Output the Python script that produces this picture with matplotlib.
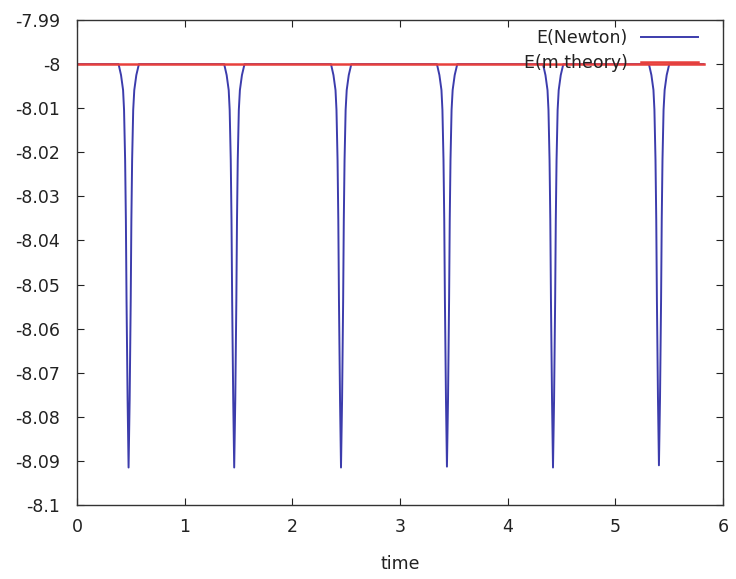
import matplotlib
matplotlib.use("Agg")
import matplotlib.pyplot as plt
from matplotlib.ticker import FixedLocator, FuncFormatter

plt.rcParams['font.family'] = ['DejaVu Sans']

# flat level of both energies
E_LEVEL = -8.0
T_END = 5.82

# times of the six dips and their lowest values
dip_times = [0.479, 1.460, 2.452, 3.436, 4.421, 5.405]
dip_minima = [-8.0915, -8.0915, -8.0915, -8.0913, -8.0915, -8.0910]

# shape of one dip: time offset and drop below -8
dip_offsets = [-0.12, -0.093, -0.070, -0.051, -0.042, -0.032, -0.025, -0.019, -0.009, 0.0,
               0.010, 0.020, 0.026, 0.033, 0.043, 0.053, 0.072, 0.096, 0.12]
dip_drops = [0.0, 0.0, -0.0025, -0.0059, -0.0104, -0.0218, -0.0354, -0.0535, -0.0762, -0.0915,
             -0.0762, -0.0535, -0.0354, -0.0218, -0.0104, -0.0059, -0.0025, 0.0, 0.0]

yticks = [-7.99, -8.0, -8.01, -8.02, -8.03, -8.04, -8.05, -8.06, -8.07, -8.08, -8.09, -8.1]
xticks = [0, 1, 2, 3, 4, 5, 6]

# build the Newton curve
t_newton = [0.0]
e_newton = [E_LEVEL]
for tc, emin in zip(dip_times, dip_minima):
    scale = (emin - E_LEVEL) / dip_drops[9]
    for off, d in zip(dip_offsets, dip_drops):
        t_newton.append(tc + off)
        e_newton.append(E_LEVEL + d * scale)
t_newton.append(T_END)
e_newton.append(E_LEVEL)

t_theory = [0.0, T_END]
e_theory = [E_LEVEL, E_LEVEL]

FS = 12.5
TXT = '#222222'

fig = plt.figure(figsize=(7.36, 5.79), dpi=100)
ax = fig.add_axes([77 / 736, 1 - 505 / 579, 646 / 736, 485 / 579])

ax.plot(t_newton, e_newton, color='#3c3cac', lw=1.4, label='E(Newton)')
ax.plot(t_theory, e_theory, color='#e8403c', lw=1.8, label='E(m theory)')

ax.set_xlim(0, 6)
ax.set_ylim(-8.1, -7.99)
ax.xaxis.set_major_locator(FixedLocator(xticks))
ax.yaxis.set_major_locator(FixedLocator(yticks))
ax.xaxis.set_major_formatter(FuncFormatter(lambda v, p: f"{v:g}"))
ax.yaxis.set_major_formatter(FuncFormatter(lambda v, p: f"{v:g}"))
ax.tick_params(direction='in', length=5, width=0.8, top=True, right=True,
               labelsize=FS, colors=TXT)
ax.tick_params(axis='y', pad=12)
ax.tick_params(axis='x', pad=9)
for s in ax.spines.values():
    s.set_linewidth(1.0)
    s.set_color('#333333')

ax.set_xlabel('time', fontsize=FS, labelpad=14, color=TXT)

leg = ax.legend(loc='upper right', bbox_to_anchor=(0.961, 0.982), frameon=False,
                markerfirst=False, borderpad=0, borderaxespad=0, handlelength=3.3,
                handletextpad=0.75, labelspacing=0.42, fontsize=FS)
for t in leg.get_texts():
    t.set_color(TXT)

fig.savefig('out.png', dpi=100)
